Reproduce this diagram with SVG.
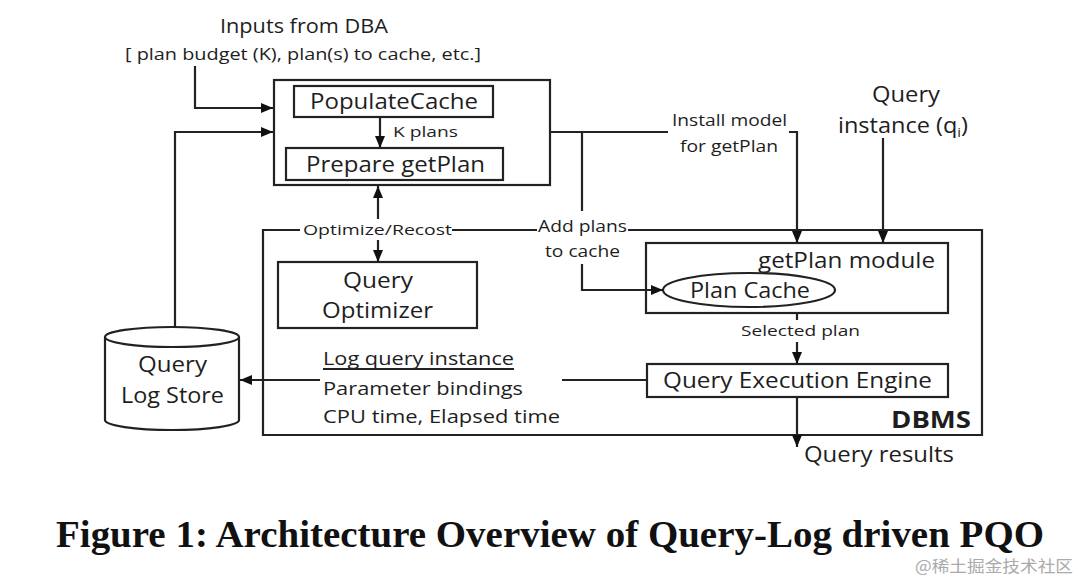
<svg xmlns="http://www.w3.org/2000/svg" width="1080" height="579" viewBox="0 0 1080 579">
<style>
.box{fill:none;stroke:#222;stroke-width:2.2}
.ln{fill:none;stroke:#222;stroke-width:2.2}
.t{font-family:"Open Sans","Liberation Sans",sans-serif;fill:#1e1e1e}
.a{marker-end:url(#arr)}
</style>
<defs>
<marker id="arr" viewBox="0 0 12 10" refX="12" refY="5" markerWidth="12" markerHeight="10" markerUnits="userSpaceOnUse" orient="auto">
<path d="M0,0 L12,5 L0,10 z" fill="#111"/>
</marker>
</defs>
<rect width="1080" height="579" fill="#fff"/>

<g id="dba-inputs">
<text class="t" x="220" y="33" font-size="20" textLength="168" lengthAdjust="spacingAndGlyphs">Inputs from DBA</text>
<text class="t" x="125" y="60" font-size="16" textLength="356" lengthAdjust="spacingAndGlyphs">[ plan budget (K), plan(s) to cache, etc.]</text>
</g>

<g id="top-module">
<rect class="box" x="274" y="80" width="276" height="105"/>
</g>
<g id="populate-cache">
<rect class="box" x="294" y="86" width="199" height="31"/>
<text class="t" x="310" y="109" font-size="21" textLength="168" lengthAdjust="spacingAndGlyphs">PopulateCache</text>
</g>
<g id="prepare-getplan">
<rect class="box" x="286" y="148" width="217" height="32"/>
<text class="t" x="306" y="172" font-size="21" textLength="179" lengthAdjust="spacingAndGlyphs">Prepare getPlan</text>
</g>

<g id="dbms">
<path class="box" d="M300,230 H263 V435 H982 V230 H628 M452,230 H537"/>
<text class="t" x="971" y="428" font-size="23" font-weight="bold" text-anchor="end" textLength="80" lengthAdjust="spacingAndGlyphs">DBMS</text>
</g>

<g id="query-optimizer">
<rect class="box" x="278" y="262" width="199" height="66"/>
<text class="t" x="343" y="288" font-size="21" textLength="70" lengthAdjust="spacingAndGlyphs">Query</text>
<text class="t" x="322" y="318" font-size="21" textLength="111" lengthAdjust="spacingAndGlyphs">Optimizer</text>
</g>

<g id="getplan-module">
<rect class="box" x="646" y="243" width="302" height="70"/>
<text class="t" x="758" y="268" font-size="21" textLength="177" lengthAdjust="spacingAndGlyphs">getPlan module</text>
</g>
<g id="plan-cache">
<ellipse class="box" cx="749" cy="290" rx="86" ry="17"/>
<text class="t" x="690" y="298" font-size="21" textLength="120" lengthAdjust="spacingAndGlyphs">Plan Cache</text>
</g>

<g id="query-execution-engine">
<rect class="box" x="647" y="364" width="301" height="33"/>
<text class="t" x="663" y="388" font-size="21" textLength="269" lengthAdjust="spacingAndGlyphs">Query Execution Engine</text>
</g>

<g id="query-log-store">
<path class="box" d="M105,337 V420 A67,10 0 0 0 239,420 V337"/>
<ellipse class="box" cx="172" cy="337" rx="67" ry="10"/>
<text class="t" x="138" y="372" font-size="21" textLength="69" lengthAdjust="spacingAndGlyphs">Query</text>
<text class="t" x="121" y="403" font-size="21" textLength="103" lengthAdjust="spacingAndGlyphs">Log Store</text>
</g>

<g id="query-instance">
<text class="t" x="872" y="102" font-size="21" textLength="68" lengthAdjust="spacingAndGlyphs">Query</text>
<text class="t" x="838" y="133" font-size="21" textLength="130" lengthAdjust="spacingAndGlyphs">instance (q<tspan font-size="13" dy="4">i</tspan><tspan dy="-4">)</tspan></text>
</g>

<g id="connectors">
<path class="ln a" d="M195,66 V108 H273"/>
<path class="ln a" d="M175,327 V132 H273"/>
<path class="ln a" d="M380,117 V148"/>
<path class="ln" d="M550,132 H668"/>
<path class="ln a" d="M789,132 H797 V243"/>
<path class="ln" d="M582,132 V211"/>
<path class="ln a" d="M582,264 V290 H663"/>
<path class="ln a" d="M883,138 V243"/>
<path class="ln a" d="M378,219 V186"/>
<path class="ln a" d="M378,240 V262"/>
<path class="ln" d="M797,313 V320"/>
<path class="ln a" d="M797,342 V364"/>
<path class="ln" d="M647,380 H562"/>
<path class="ln a" d="M320,380 H240"/>
<path class="ln a" d="M797,397 V447"/>
<text class="t" x="393" y="137" font-size="15" textLength="65" lengthAdjust="spacingAndGlyphs">K plans</text>
<text class="t" x="672" y="126" font-size="16" textLength="115" lengthAdjust="spacingAndGlyphs">Install model</text>
<text class="t" x="680" y="152" font-size="16" textLength="98" lengthAdjust="spacingAndGlyphs">for getPlan</text>
<text class="t" x="538" y="232" font-size="16" textLength="89" lengthAdjust="spacingAndGlyphs">Add plans</text>
<text class="t" x="545" y="257" font-size="16" textLength="75" lengthAdjust="spacingAndGlyphs">to cache</text>
<text class="t" x="303" y="235" font-size="15" textLength="149" lengthAdjust="spacingAndGlyphs">Optimize/Recost</text>
<text class="t" x="741" y="336" font-size="15" textLength="119" lengthAdjust="spacingAndGlyphs">Selected plan</text>
<text class="t" x="323" y="365" font-size="19" textLength="191" lengthAdjust="spacingAndGlyphs">Log query instance</text>
<path class="ln" d="M323,369 H514" stroke-width="1.5"/>
<text class="t" x="323" y="395" font-size="19" textLength="200" lengthAdjust="spacingAndGlyphs">Parameter bindings</text>
<text class="t" x="323" y="423" font-size="19" textLength="237" lengthAdjust="spacingAndGlyphs">CPU time, Elapsed time</text>
<text class="t" x="804" y="462" font-size="21" textLength="150" lengthAdjust="spacingAndGlyphs">Query results</text>
</g>

<text x="56" y="547" font-family="'Liberation Serif',serif" font-weight="bold" font-size="37" fill="#111" textLength="988" lengthAdjust="spacingAndGlyphs">Figure 1: Architecture Overview of Query-Log driven PQO</text>
<text x="915" y="572" font-family="'Noto Sans CJK SC',sans-serif" font-size="16" fill="#aaa" textLength="158" lengthAdjust="spacingAndGlyphs">@稀土掘金技术社区</text>
</svg>
